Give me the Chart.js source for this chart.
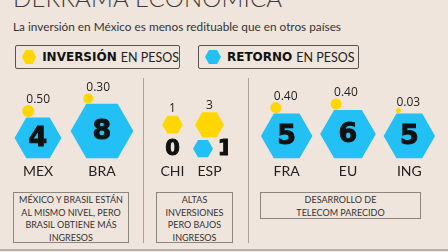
<!DOCTYPE html>
<html>
<head>
<meta charset="utf-8">
<script src="https://cdn.jsdelivr.net/npm/chart.js@4/dist/chart.umd.min.js"></script>
<style>
  html,body{margin:0;padding:0;}
  body{width:448px;height:252px;overflow:hidden;position:relative;background:#f0e5dc;font-family:Lato,"Open Sans",sans-serif;color:#2a2a2a;}
  .abs{position:absolute;}
  #title{left:13px;top:-14px;font-size:24px;line-height:24px;color:#3a3a3a;font-weight:300;white-space:nowrap;letter-spacing:0.2px;}
  #subtitle{left:13px;top:20px;font-size:11.8px;line-height:14px;color:#333;white-space:nowrap;}
  .legend{top:45px;height:24px;box-sizing:border-box;border:1px solid #5a5450;border-radius:2px;display:flex;align-items:center;white-space:nowrap;}
  .legend .hx{width:16px;height:14px;margin-left:6px;margin-right:6px;clip-path:polygon(25% 0,75% 0,100% 50%,75% 100%,25% 100%,0 50%);}
  .legend b{font-family:"DejaVu Sans",sans-serif;font-weight:bold;font-size:12px;color:#111;margin-right:4px;}
  .legend span{font-size:12.5px;color:#222;}
  .sep{width:1px;background:#a9a39e;top:78px;height:165px;}
  #bottomline{left:0;top:249px;width:448px;height:2px;background:#b9b3ae;}
  .note{box-sizing:border-box;border:1px solid #8c8681;top:192px;font-size:9px;line-height:12.6px;text-align:center;color:#333;padding-top:1px;overflow:hidden;}
  canvas{position:absolute;top:71px;}
</style>
</head>
<body>
<div id="title" class="abs">DERRAMA ECONÓMICA</div>
<div id="subtitle" class="abs">La inversión en México es menos redituable que en otros países</div>
<div class="abs legend" style="left:15px;width:165px;"><div class="hx" style="background:#ffd600"></div><b>INVERSIÓN</b><span>EN PESOS</span></div>
<div class="abs legend" style="left:198px;width:161px;"><div class="hx" style="background:#22c0f4"></div><b>RETORNO</b><span>EN PESOS</span></div>
<div class="abs sep" style="left:143px;"></div>
<div class="abs sep" style="left:248px;"></div>
<div id="bottomline" class="abs"></div>
<div id="notes"></div>
<canvas id="c1" width="128" height="106" style="left:6px"></canvas>
<canvas id="c2" width="74" height="106" style="left:154px"></canvas>
<canvas id="c3" width="184" height="106" style="left:256px"></canvas>
<script>
// ---- data ----
const categories = ['MEX', 'BRA', 'CHI', 'ESP', 'FRA', 'EU', 'ING'];
const returnValues = [4, 8, 0, 1, 5, 6, 5];          // retorno en pesos
const investmentValues = [0.50, 0.30, 1, 3, 0.40, 0.40, 0.03]; // inversión en pesos
const groupMembers = [['MEX', 'BRA'], ['CHI', 'ESP'], ['FRA', 'EU', 'ING']];
const groupNotes = [
  ['MÉXICO Y BRASIL ESTÁN', 'AL MISMO NIVEL, PERO', 'BRASIL OBTIENE MÁS', 'INGRESOS'],
  ['ALTAS', 'INVERSIONES', 'PERO BAJOS', 'INGRESOS'],
  ['DESARROLLO DE', 'TELECOM PARECIDO']
];

// ---- styles ----
const BLUE = '#22c0f4', YELLOW = '#ffd600', INK = '#111';
const noteBoxes = [
  {left: 13, width: 116, height: 51},
  {left: 156, width: 77, height: 51},
  {left: 260, width: 161, height: 27}
];
const notesEl = document.getElementById('notes');
groupNotes.forEach((lines, g) => {
  const d = document.createElement('div');
  d.className = 'abs note';
  const b = noteBoxes[g];
  d.style.left = b.left + 'px'; d.style.width = b.width + 'px'; d.style.height = b.height + 'px';
  d.innerHTML = lines.join('<br>');
  notesEl.appendChild(d);
});

function blueRadius(v, compact) { return (compact ? 10 : 13.1 * Math.pow(v, 0.42)); }
function yellowRadius(v) { return v >= 1 ? 10.3 * Math.pow(v, 0.31) : Math.max(2.5, 8 * Math.pow(v, 0.4)); }
function fmtInv(v) { return v >= 1 ? String(v) : v.toFixed(2); }

function hexPath(ctx, cx, cy, r) {
  ctx.beginPath();
  for (let k = 0; k < 6; k++) {
    const a = k * Math.PI / 3;
    ctx.lineTo(cx + r * Math.cos(a), cy + r * Math.sin(a));
  }
  ctx.closePath();
}
function boldNum(ctx, txt, x, y, size) {
  ctx.font = 'bold ' + size + 'px "DejaVu Sans", sans-serif';
  ctx.textAlign = 'center'; ctx.textBaseline = 'middle';
  ctx.fillStyle = INK; ctx.strokeStyle = INK; ctx.lineWidth = 1;
  ctx.fillText(txt, x, y); ctx.strokeText(txt, x, y);
}

const hexMarks = {
  id: 'hexMarks',
  afterDatasetsDraw(chart, args, opts) {
    const ctx = chart.ctx;
    const retMeta = chart.getDatasetMeta(0);
    const invMeta = chart.getDatasetMeta(1);
    ctx.save();
    retMeta.data.forEach((el, i) => {
      const ret = chart.data.datasets[0].data[i].v;
      const inv = chart.data.datasets[1].data[i].v;
      const cx = el.x, base = el.y;
      const invEl = invMeta.data[i];
      if (opts.mode === 'standard') {
        const r = blueRadius(ret);
        const h = Math.sqrt(3) / 2 * r;
        const cy = base - h;
        ctx.fillStyle = BLUE; hexPath(ctx, cx, cy, r); ctx.fill();
        boldNum(ctx, String(ret), cx, cy + 1, 27);
        const yr = yellowRadius(inv);
        const dx = invEl.x - r / 2 + 2;
        const dy = cy - h - yr - 0.5;
        ctx.fillStyle = YELLOW; ctx.beginPath(); ctx.arc(dx, dy, yr, 0, Math.PI * 2); ctx.fill();
        ctx.fillStyle = '#222'; ctx.font = '12px "Open Sans", sans-serif';
        ctx.textAlign = 'left'; ctx.textBaseline = 'alphabetic';
        ctx.fillText(fmtInv(inv), dx - 2, dy - yr - 2);
      } else {
        const yr = yellowRadius(inv);
        const ycy = base - 33.5;
        ctx.fillStyle = YELLOW; hexPath(ctx, invEl.x, ycy, yr); ctx.fill();
        ctx.fillStyle = '#222'; ctx.font = '12px "Open Sans", sans-serif';
        ctx.textAlign = 'center'; ctx.textBaseline = 'alphabetic';
        ctx.fillText(fmtInv(inv), invEl.x, ycy - Math.sqrt(3) / 2 * yr - 3.5);
        const ny = base - 8.5;
        if (ret === 0) {
          boldNum(ctx, '0', cx, ny, 21);
        } else {
          const br = blueRadius(ret, true);
          ctx.fillStyle = BLUE; hexPath(ctx, cx - 6.5, ny - 1, br); ctx.fill();
          boldNum(ctx, String(ret), cx + 15.5, ny, 21);
        }
      }
    });
    ctx.restore();
  }
};

function makePanel(id, members, mode) {
  const idx = members.map(m => categories.indexOf(m));
  return new Chart(document.getElementById(id), {
    type: 'bubble',
    data: {
      labels: members,
      datasets: [
        {label: 'Retorno en pesos', data: idx.map(k => ({x: categories[k], y: 0, r: 0, v: returnValues[k]})), backgroundColor: BLUE},
        {label: 'Inversión en pesos', data: idx.map(k => ({x: categories[k], y: 0, r: 0, v: investmentValues[k]})), backgroundColor: YELLOW}
      ]
    },
    options: {
      responsive: false, animation: false, events: [],
      layout: {padding: 0},
      clip: false,
      plugins: {legend: {display: false}, tooltip: {enabled: false}, hexMarks: {mode}},
      scales: {
        x: {type: 'category', offset: true, grid: {display: false}, border: {display: false},
            ticks: {padding: -3, color: '#222', font: {family: 'Lato', size: 14}}},
        y: {display: false, min: 0, max: 1}
      }
    },
    plugins: [hexMarks]
  });
}
makePanel('c1', groupMembers[0], 'standard');
makePanel('c2', groupMembers[1], 'highInvestment');
makePanel('c3', groupMembers[2], 'standard');
</script>
</body>
</html>
